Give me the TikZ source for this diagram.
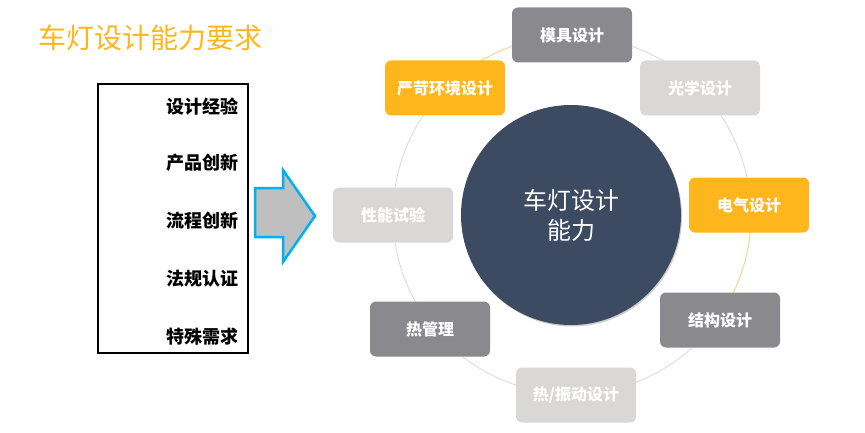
\documentclass[tikz,border=0pt]{standalone}
\usepackage{fontspec}
\setmainfont{Noto Sans CJK SC}
\usepackage{tikz}
\usetikzlibrary{calc}
\usetikzlibrary{shadows}

\definecolor{cGray}{RGB}{138,138,142}
\definecolor{cLight}{RGB}{217,216,214}
\definecolor{cOrange}{RGB}{255,182,28}
\definecolor{cDark}{RGB}{60,74,98}
\definecolor{cRing}{RGB}{218,218,218}
\definecolor{cRingO}{RGB}{255,217,140}
\definecolor{cCyan}{RGB}{0,176,240}

\begin{document}
\begin{tikzpicture}[x=1pt,y=1pt,
	skill/.style={rounded corners=6pt, minimum width=120pt, minimum height=55pt, text=white, font=\fontsize{16}{18}\selectfont\bfseries},
	req/.style={anchor=east, font=\fontsize{18}{20}\selectfont\bfseries}]
				\useasboundingbox (0,0) rectangle (865,432);
				
				\node[anchor=west, text=cOrange, font=\fontsize{28}{32}\selectfont] (title) at (35,394) {车灯设计能力要求};
				
				\node[draw, line width=1.8pt, minimum width=150pt, minimum height=269pt] (box) at (173,213.5) {};
				\node[req] (r1) at (242,325) {设计经验};
				\node[req] (r2) at (242,269) {产品创新};
				\node[req] (r3) at (242,211) {流程创新};
				\node[req] (r4) at (242,153) {法规认证};
				\node[req] (r5) at (242,95) {特殊需求};
				
				\draw[line width=2.5pt, cCyan, fill=gray!50, line join=miter] (255,244) -- (283,244) -- (283,262) -- (315,216) -- (283,170) -- (283,195) -- (255,195) -- cycle;
				
				\coordinate (O) at (572,217);
				\draw[cRing, line width=0.8pt] (O) circle (179);
				\draw[cRingO, line width=0.8pt] ($(O)+(135:179)$) arc (135:90:179);
				\draw[cRingO, line width=0.8pt] ($(O)+(3:179)$) arc (3:-35:179);
				
				\node[circle, fill=cDark, minimum size=220pt, text=white, align=center, font=\fontsize{24}{30}\selectfont, drop shadow={shadow xshift=1pt, shadow yshift=-1.5pt, opacity=0.4}] (core) at (571,217) {车灯设计\\能力};
				
				\node[skill, fill=cGray] (mold) at (572,397) {模具设计};
				\node[skill, fill=cLight] (optic) at (700,344) {光学设计};
				\node[skill, fill=cOrange] (elec) at (749,227) {电气设计};
				\node[skill, fill=cGray] (struct) at (720,112) {结构设计};
				\node[skill, fill=cLight] (vib) at (576,37) {热/振动设计};
				\node[skill, fill=cGray] (heat) at (430,103) {热管理};
				\node[skill, fill=cLight] (perf) at (393,217) {性能试验};
				\node[skill, fill=cOrange] (env) at (445,344) {严苛环境设计};
			\end{tikzpicture}
\end{document}
